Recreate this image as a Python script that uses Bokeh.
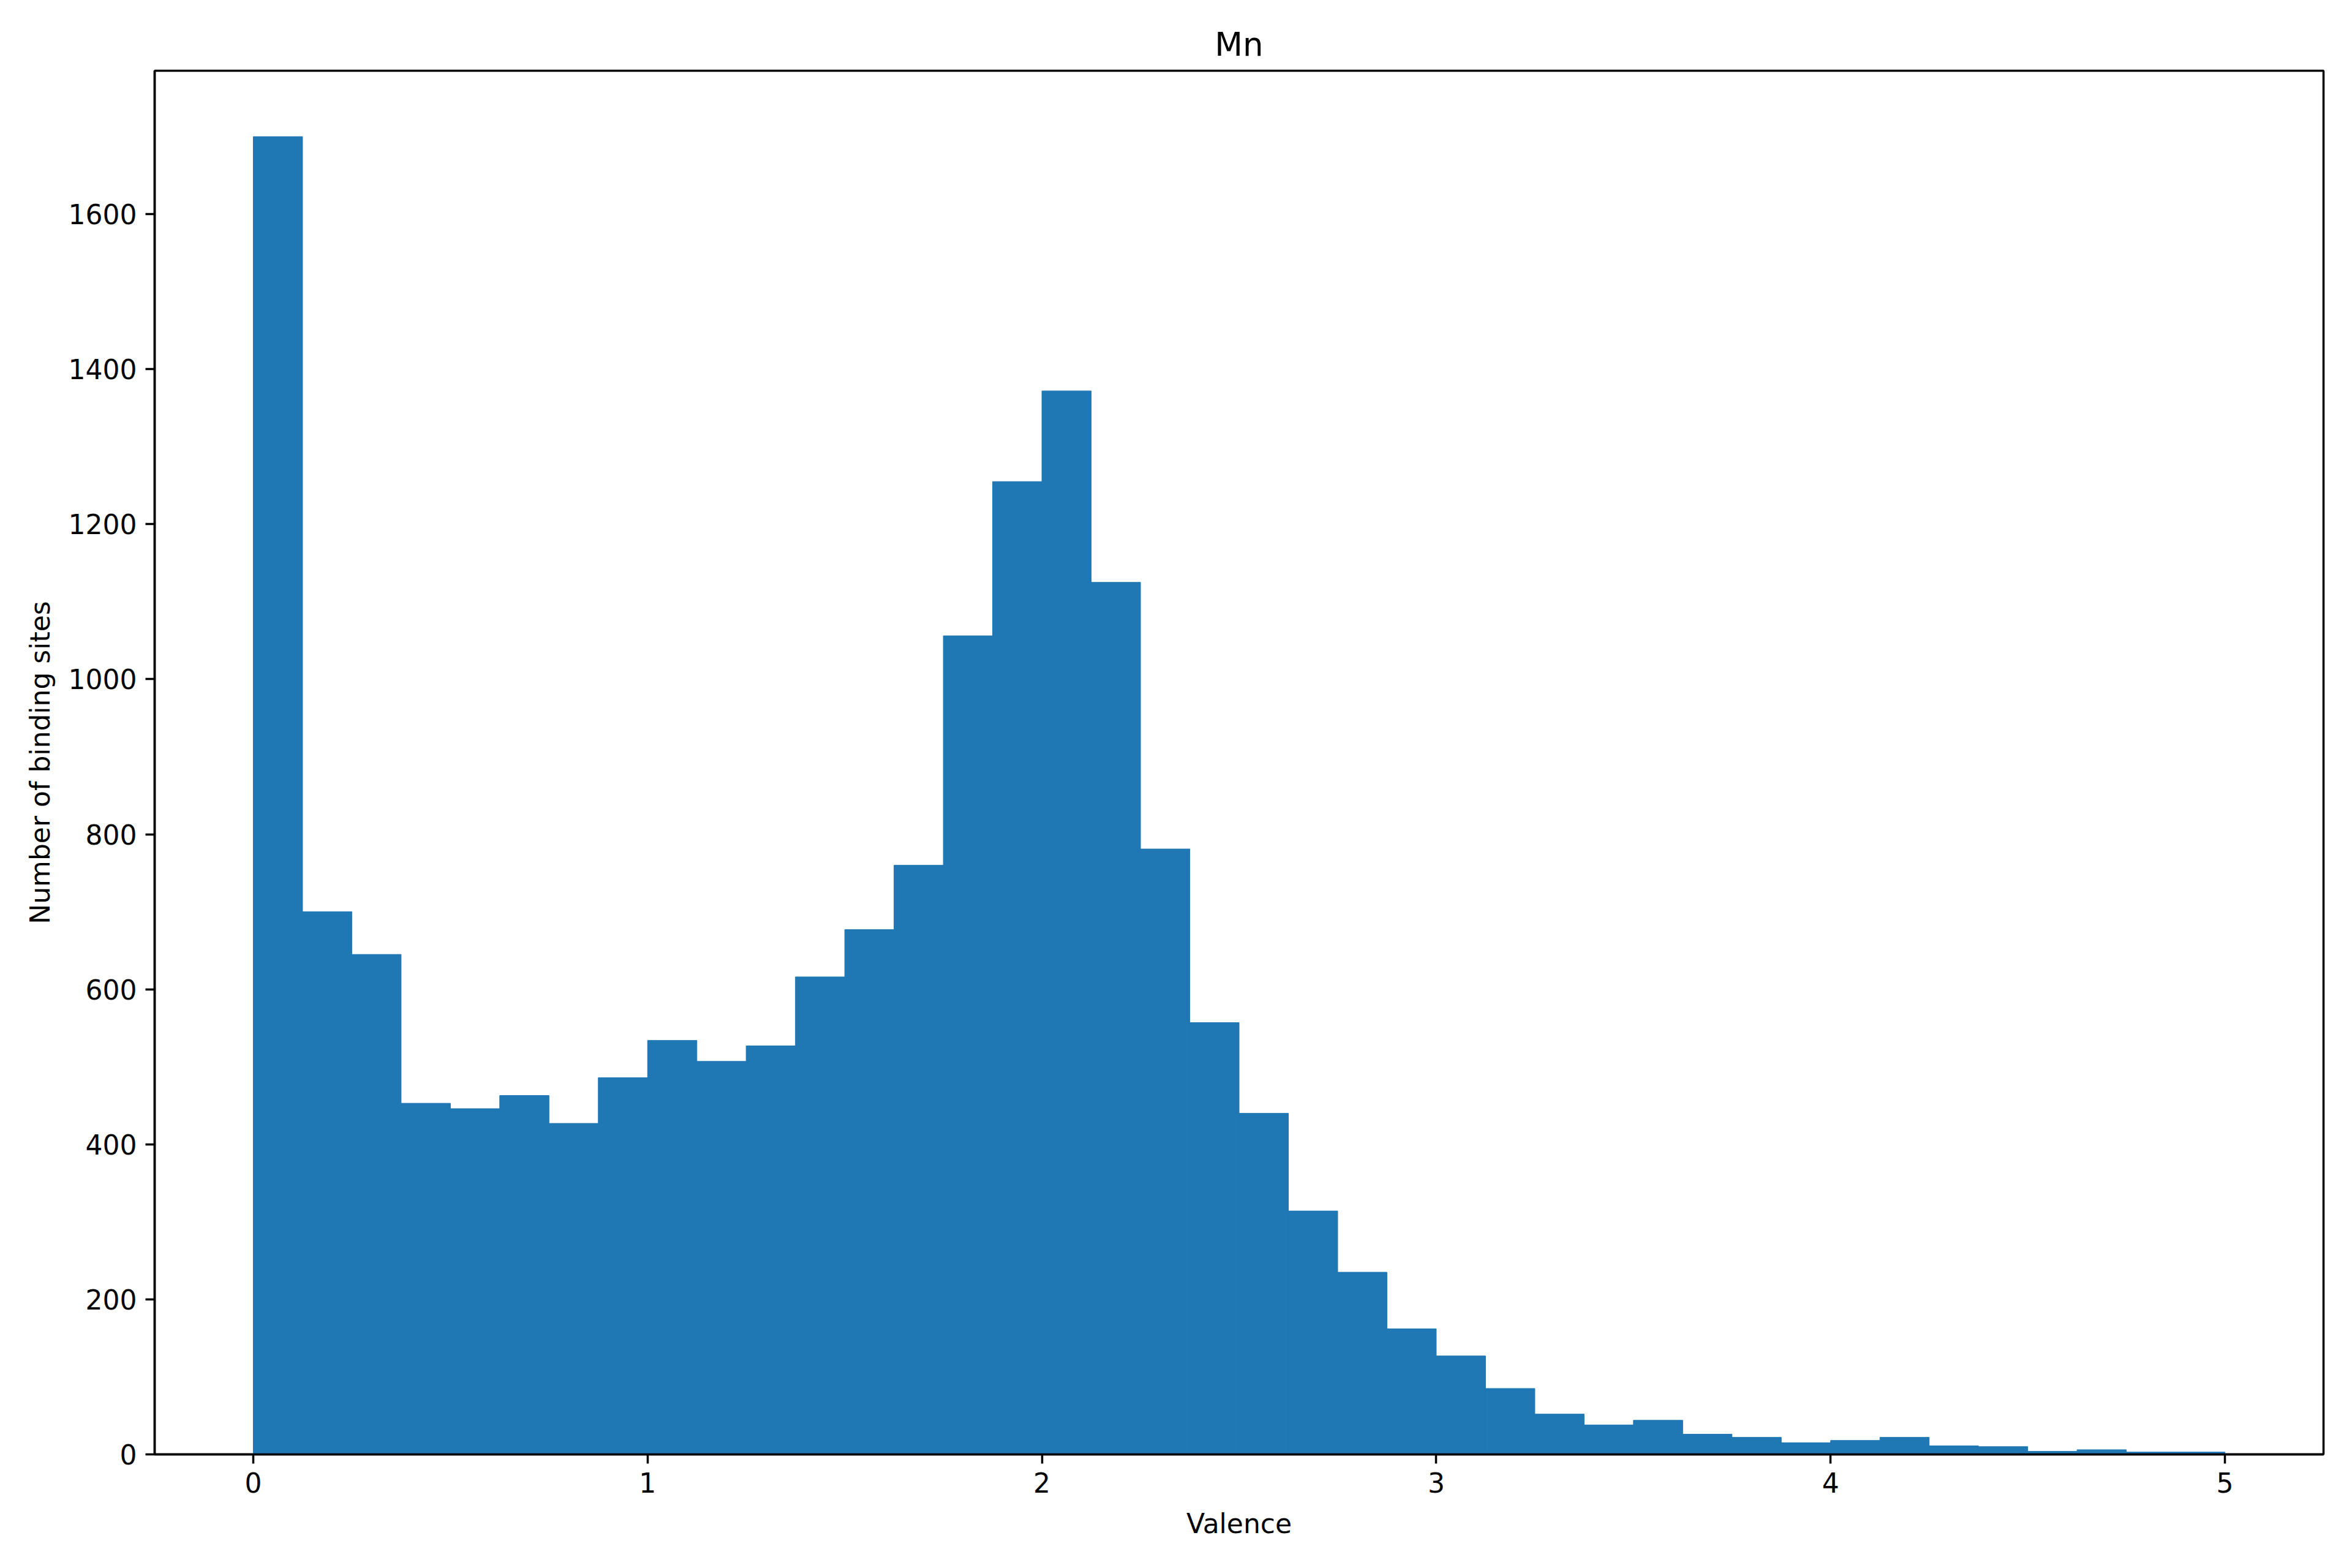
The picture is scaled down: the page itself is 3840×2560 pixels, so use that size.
import numpy as np
from bokeh.plotting import figure
from bokeh.models import Range1d, FixedTicker
from bokeh.embed import file_html
from bokeh.resources import INLINE

# Histogram data (40 bins from 0 to 5)
bin_edges = np.linspace(0.0, 5.0, 41)
counts = [1700, 700, 645, 453, 446, 463, 427, 486, 534, 507,
          527, 616, 677, 760, 1056, 1255, 1372, 1125, 781, 557,
          440, 314, 235, 162, 127, 85, 52, 38, 44, 26,
          22, 15, 18, 22, 11, 10, 4, 6, 3, 3]
x_ticks = [0, 1, 2, 3, 4, 5]
y_ticks = [0, 200, 400, 600, 800, 1000, 1200, 1400, 1600]
title_text = "Mn"
x_label = "Valence"
y_label = "Number of binding sites"

FONT = "DejaVu Sans"

p = figure(width=3824, height=2544, output_backend="svg", toolbar_location=None,
           x_range=Range1d(-0.25, 5.25), y_range=Range1d(0, 1785),
           min_border_left=252, min_border_right=31, min_border_top=115, min_border_bottom=170,
           title=title_text)

p.quad(left=bin_edges[:-1], right=bin_edges[1:], top=counts, bottom=0,
       fill_color="#1f77b4", line_color="#1f77b4", line_width=1)

p.xgrid.visible = False
p.ygrid.visible = False
p.background_fill_color = "white"
p.border_fill_color = "white"
p.outline_line_color = "black"
p.outline_line_width = 3.5

p.title.text_font = FONT
p.title.text_font_size = "53px"
p.title.text_font_style = "normal"
p.title.text_color = "black"
p.title.align = "center"
p.title.standoff = 26

for ax, ticks in ((p.xaxis[0], x_ticks), (p.yaxis[0], y_ticks)):
    ax.ticker = FixedTicker(ticks=ticks)
    ax.minor_tick_line_color = None
    ax.major_tick_out = 15
    ax.major_tick_in = 0
    ax.major_tick_line_width = 3.5
    ax.major_tick_line_color = "black"
    ax.axis_line_width = 3.5
    ax.axis_line_color = "black"
    ax.major_label_text_font = FONT
    ax.major_label_text_font_size = "44px"
    ax.major_label_text_color = "black"
    ax.axis_label_text_font = FONT
    ax.axis_label_text_font_size = "44px"
    ax.axis_label_text_font_style = "normal"
    ax.axis_label_text_color = "black"
    ax.major_label_standoff = 14

p.xaxis.axis_label = x_label
p.yaxis.axis_label = y_label
p.xaxis.axis_label_standoff = 22
p.yaxis.axis_label_standoff = 18

open("out.html", "w").write(file_html(p, INLINE))
